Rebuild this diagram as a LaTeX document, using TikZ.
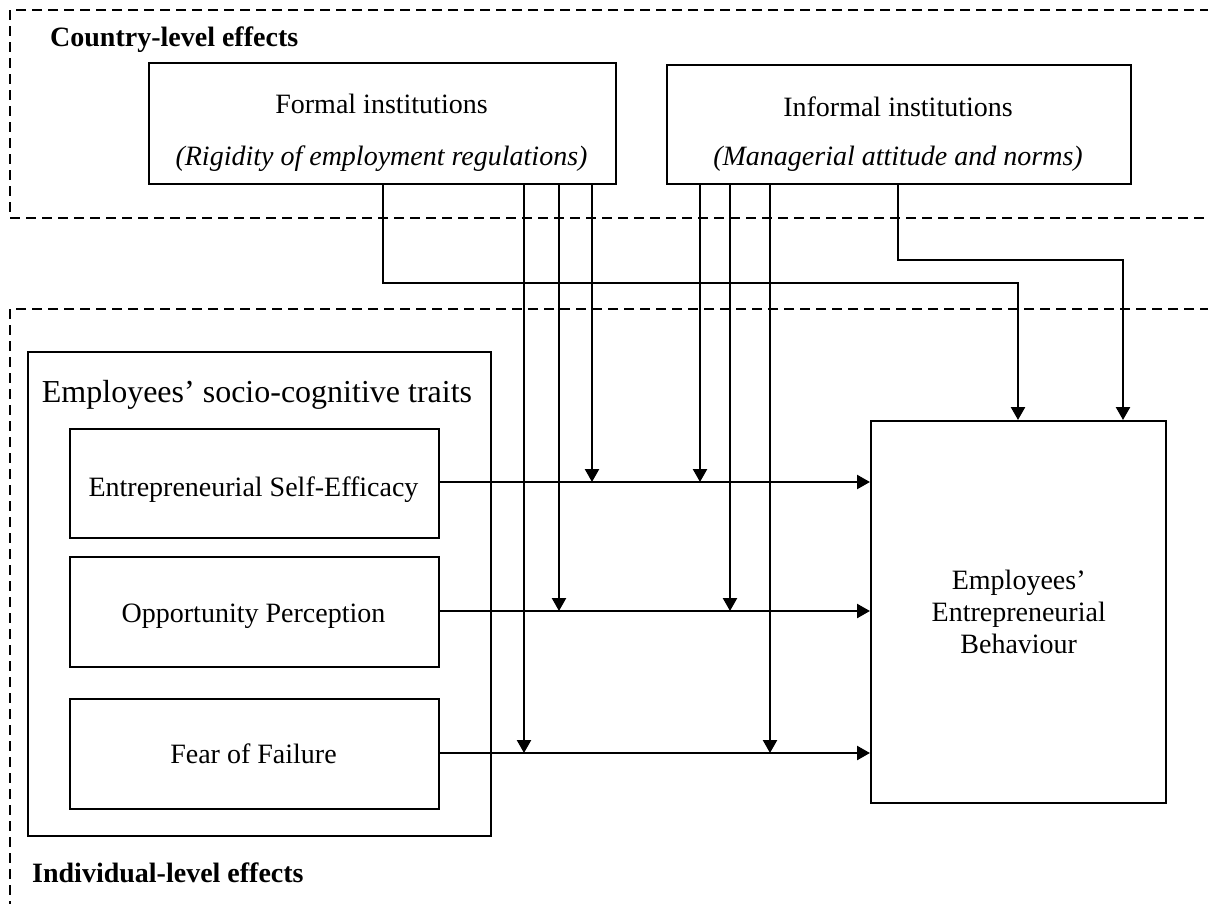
\documentclass[tikz,border=0pt]{standalone}
\usepackage{fontspec}
\setmainfont{Liberation Serif}
\usetikzlibrary{arrows.meta}
\begin{document}
\begin{tikzpicture}[x=1pt,y=-1pt,line width=2.4pt,
  box/.style={draw,line width=2.4pt,rectangle,inner sep=0pt,anchor=north west},
  txt/.style={font=\fontsize{28}{32}\selectfont,inner sep=0pt,anchor=base},
  arr/.style={-{Triangle[length=13pt,width=14pt]},line width=2.4pt},
  zone/.style={dash pattern=on 10pt off 6pt,line width=2.4pt}]
\useasboundingbox (0,0) rectangle (1208,903);

% level zones
\draw[zone] (1210,10) -- (10,10) -- (10,218) -- (1210,218);
\draw[zone] (1210,309) -- (10,309) -- (10,905);
\node[txt,anchor=base west,font=\fontsize{28}{32}\selectfont\bfseries] (country) at (49,46) {Country-level effects};
\node[txt,anchor=base west,font=\fontsize{28}{32}\selectfont\bfseries] (individual) at (31,882) {Individual-level effects};

% institutions
\node[box,minimum width=467pt,minimum height=121pt] (formal) at (148,62) {};
\node[txt] (formalA) at (381.5,113) {Formal institutions};
\node[txt] (formalB) at (381.5,165) {\itshape (Rigidity of employment regulations)};
\node[box,minimum width=464pt,minimum height=119pt] (informal) at (666,64) {};
\node[txt] (informalA) at (898,116) {Informal institutions};
\node[txt] (informalB) at (898,165) {\itshape (Managerial attitude and norms)};

% traits
\node[box,minimum width=463pt,minimum height=484pt] (traits) at (27,351) {};
\node[txt,font=\fontsize{32}{36}\selectfont] (traitsT) at (257,402) {Employees’ socio-cognitive traits};
\node[box,minimum width=369pt,minimum height=109pt] (ese) at (69,428) {};
\node[txt] (eseT) at (253.5,496) {Entrepreneurial Self-Efficacy};
\node[box,minimum width=369pt,minimum height=110pt] (op) at (69,556) {};
\node[txt] (opT) at (253.5,622) {Opportunity Perception};
\node[box,minimum width=369pt,minimum height=110pt] (fof) at (69,698) {};
\node[txt] (fofT) at (253.5,763) {Fear of Failure};

% outcome
\node[box,minimum width=295pt,minimum height=382pt,align=center,
      font=\fontsize{28}{32}\selectfont] (eeb) at (870,420)
      {Employees’\\Entrepreneurial\\Behaviour};

% junction points
\coordinate (f1) at (592,482);
\coordinate (f2) at (559,611);
\coordinate (f3) at (524,753);
\coordinate (i1) at (700,482);
\coordinate (i2) at (730,611);
\coordinate (i3) at (770,753);
\coordinate (fr) at (383,283);
\coordinate (ir) at (898,260);
\coordinate (e1) at (1018,0);
\coordinate (e2) at (1123,0);

% direct effects
\draw[arr] (ese.east |- f1) -- (eeb.west |- f1);
\draw[arr] (op.east |- f2) -- (eeb.west |- f2);
\draw[arr] (fof.east |- f3) -- (eeb.west |- f3);

% moderation
\draw[arr] (formal.south -| f1) -- (f1);
\draw[arr] (formal.south -| f2) -- (f2);
\draw[arr] (formal.south -| f3) -- (f3);
\draw[arr] (informal.south -| i1) -- (i1);
\draw[arr] (informal.south -| i2) -- (i2);
\draw[arr] (informal.south -| i3) -- (i3);

% country-level direct effects
\draw[arr] (formal.south -| fr) -- (fr) -| (eeb.north -| e1);
\draw[arr] (informal.south -| ir) -- (ir) -| (eeb.north -| e2);
\end{tikzpicture}
\end{document}
